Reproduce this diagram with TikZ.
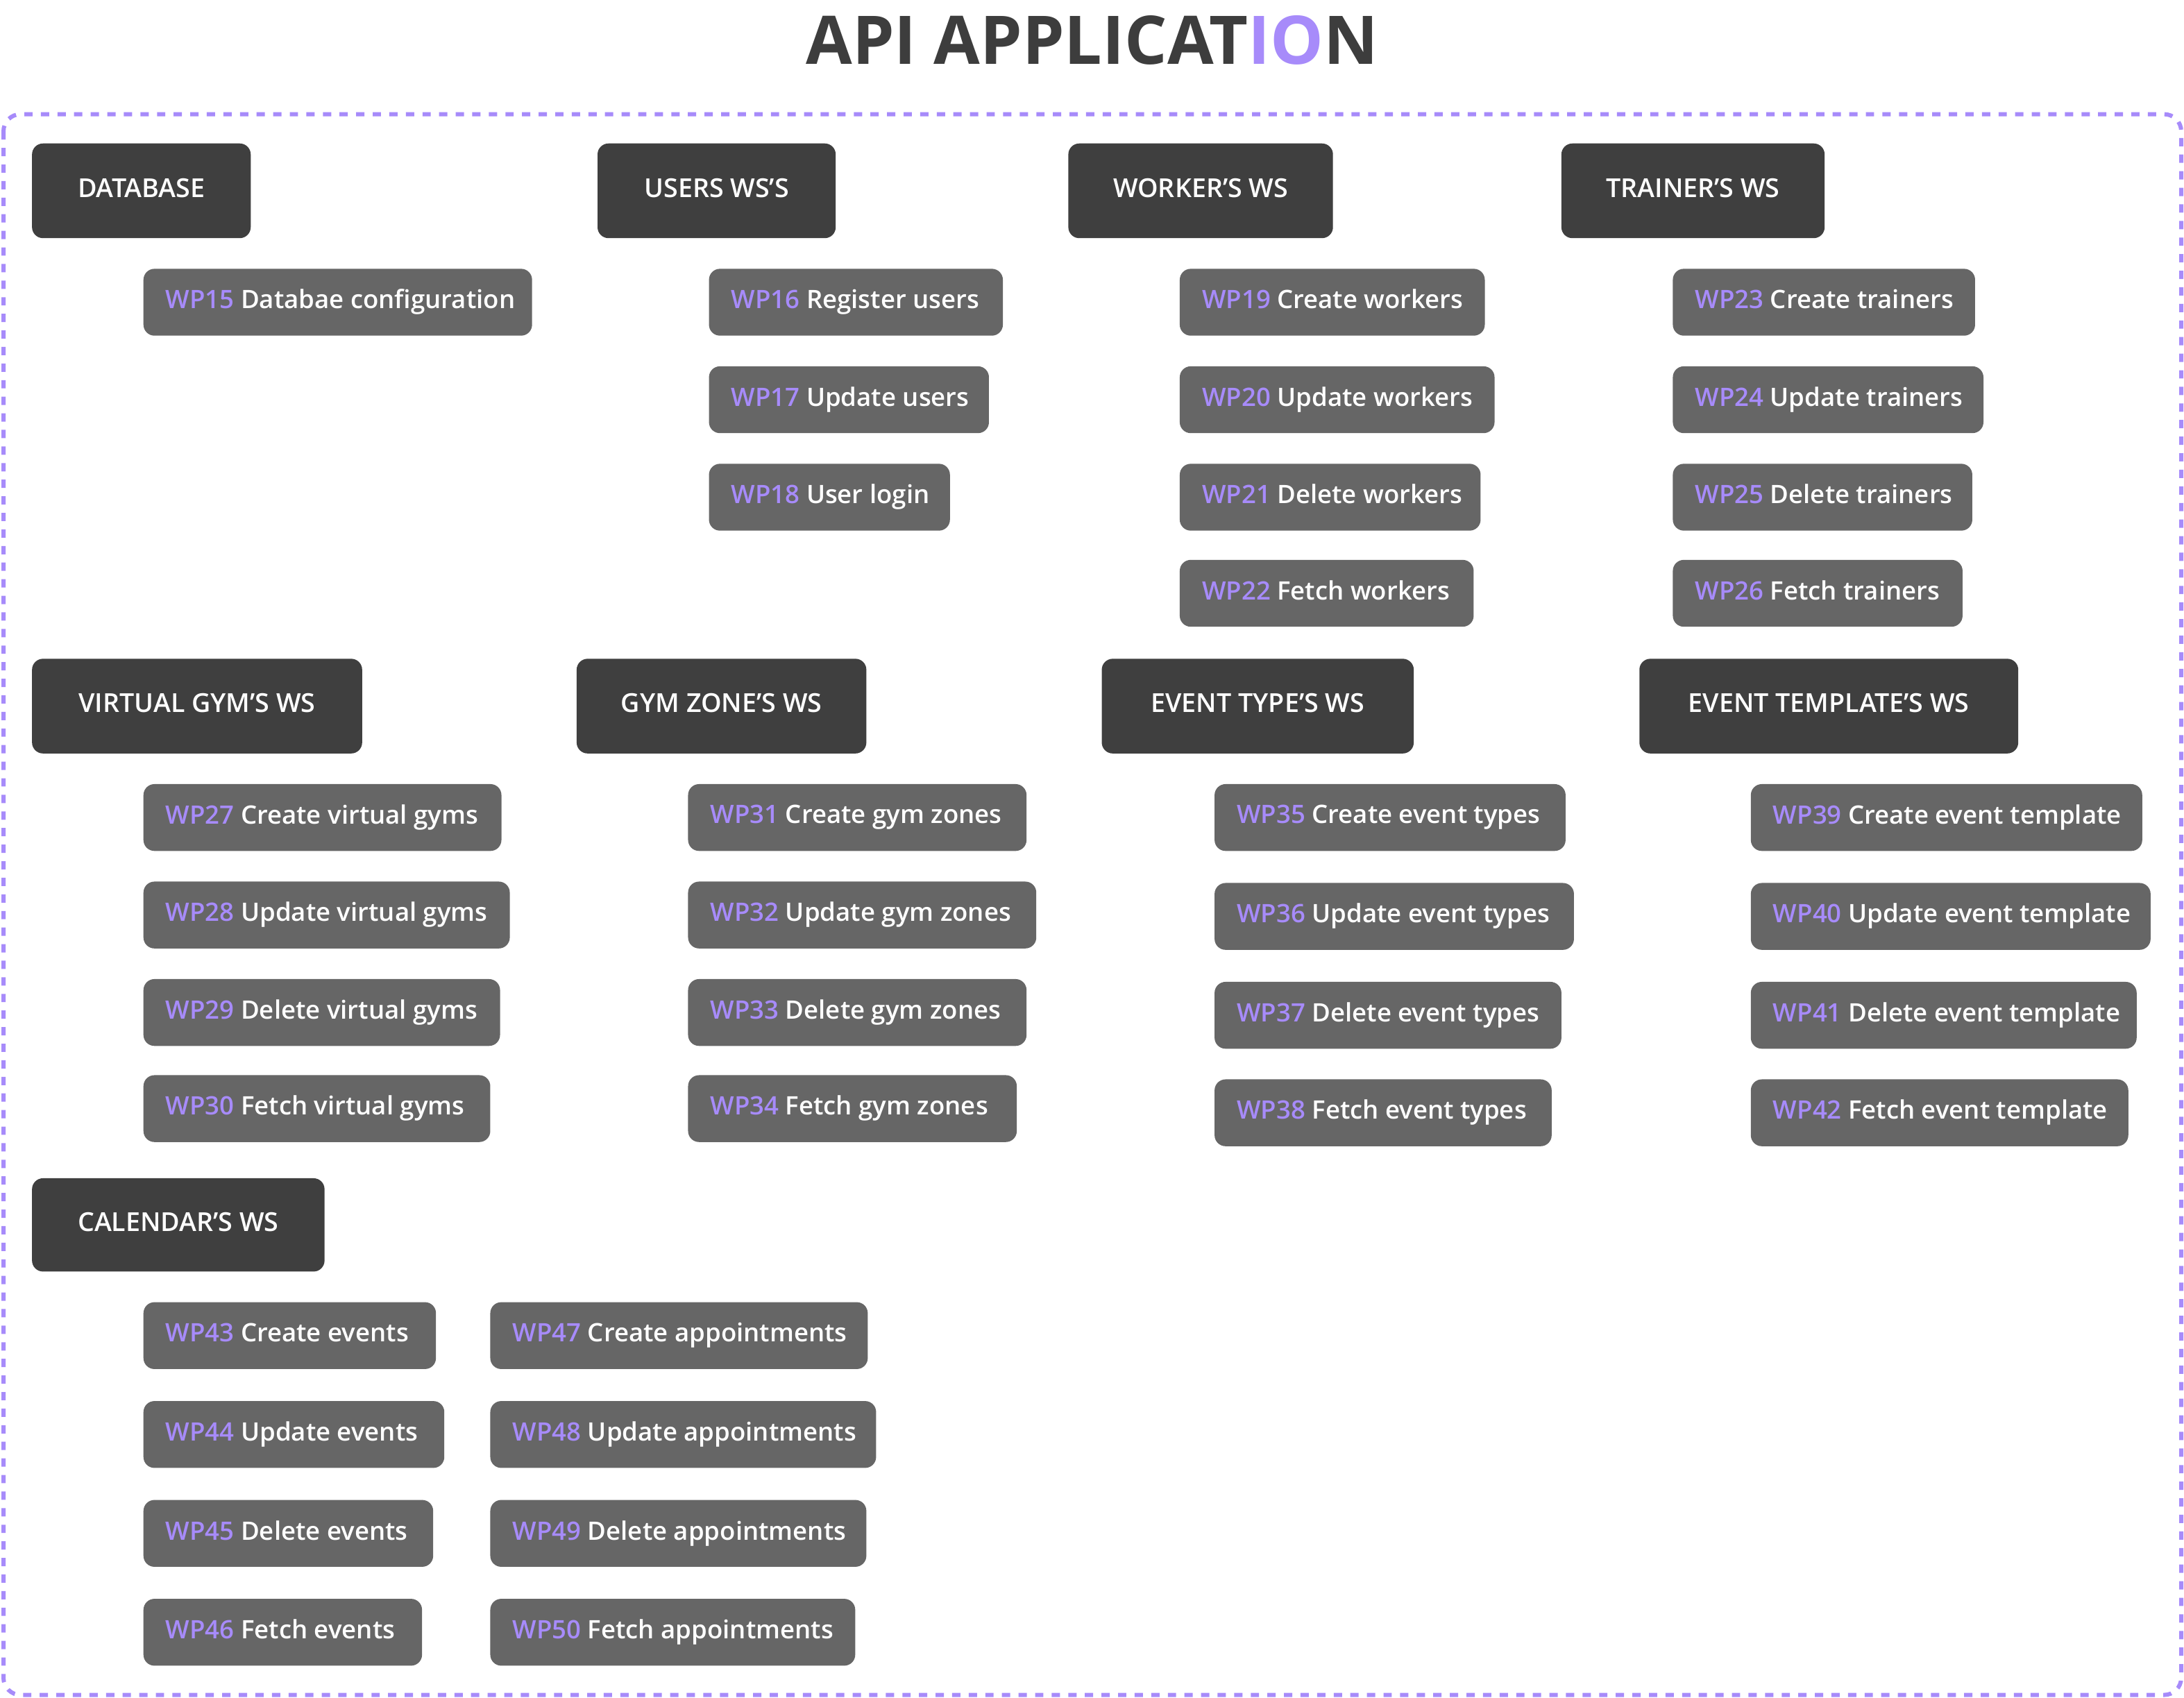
\documentclass[tikz,border=0pt]{standalone}
\usepackage{fontspec}
\setmainfont{Open Sans}
\IfFontExistsTF{Open Sans SemiBold}
  {\newfontfamily\medfont{Open Sans SemiBold}}
  {\IfFontExistsTF{Open Sans Semibold}
    {\newfontfamily\medfont{Open Sans Semibold}}
    {\newfontfamily\medfont{Open Sans}}}
\definecolor{hdrc}{HTML}{3F3F3F}
\definecolor{wpc}{HTML}{666666}
\definecolor{pur}{HTML}{A78BFA}
\definecolor{titc}{HTML}{3D3D3D}
\newcommand\capstrut{\rule[-2.6pt]{0pt}{8.1pt}}
\tikzset{
  hdrbox/.style={fill=hdrc, rounded corners=4.5pt, text=white, inner sep=0pt,
    font=\medfont\fontsize{10.7}{12}\selectfont},
  wpbox/.style={fill=wpc, rounded corners=4.5pt, text=white, inner sep=0pt,
    font=\medfont\fontsize{10.4}{12}\selectfont},
  frame/.style={draw=pur, line width=1.7pt, dash pattern=on 3.4pt off 3.4pt, rounded corners=7pt},
  titlebox/.style={inner sep=0pt, font=\fontsize{27.5}{32}\selectfont\bfseries}
}
\newcommand\hdrnode[6]{%
  \pgfmathsetmacro\bw{(#4-#2)*0.02007}%
  \pgfmathsetmacro\bh{(#5-#3)*0.02007}%
  \node[hdrbox, minimum width=\bw cm, minimum height=\bh cm] (#1) at ({(#2+#4)/2},{(#3+#5)/2}) {\capstrut #6};}
\newcommand\wpnode[7]{%
  \pgfmathsetmacro\bw{(#4-#2)*0.02007}%
  \pgfmathsetmacro\bh{(#5-#3)*0.02007}%
  \pgfmathsetmacro\tw{(#4-#2-32)*0.02007}%
  \node[wpbox, minimum width=\bw cm, minimum height=\bh cm] (#1) at ({(#2+#4)/2},{(#3+#5)/2}) {\makebox[\tw cm][l]{\capstrut\textcolor{pur}{WP#6} #7}};}
\begin{document}
\begin{tikzpicture}[x=0.02007cm,y=-0.02007cm]
\useasboundingbox (0,0) rectangle (1568,1219);
\node[titlebox] (title) at (784,29) {\textcolor{titc}{API APPLICAT}\textcolor{pur}{IO}\textcolor{titc}{N}};
\draw[frame] (2.5,82) rectangle (1566,1217);
% section 1
\hdrnode{db}{23}{103}{180}{171}{DATABASE}
\hdrnode{us}{429}{103}{600}{171}{USERS WS’S}
\hdrnode{wk}{767}{103}{957}{171}{WORKER’S WS}
\hdrnode{tr}{1121}{103}{1310}{171}{TRAINER’S WS}
\wpnode{w15}{103}{193}{382}{241}{15}{Databae configuration}
\wpnode{w16}{509}{193}{720}{241}{16}{Register users}
\wpnode{w17}{509}{263}{710}{311}{17}{Update users}
\wpnode{w18}{509}{333}{682}{381}{18}{User login}
\wpnode{w19}{847}{193}{1066}{241}{19}{Create workers}
\wpnode{w20}{847}{263}{1073}{311}{20}{Update workers}
\wpnode{w21}{847}{333}{1063}{381}{21}{Delete workers}
\wpnode{w22}{847}{402}{1058}{450}{22}{Fetch workers}
\wpnode{w23}{1201}{193}{1418}{241}{23}{Create trainers}
\wpnode{w24}{1201}{263}{1424}{311}{24}{Update trainers}
\wpnode{w25}{1201}{333}{1416}{381}{25}{Delete trainers}
\wpnode{w26}{1201}{402}{1409}{450}{26}{Fetch trainers}
% section 2
\hdrnode{vg}{23}{473}{260}{541}{VIRTUAL GYM’S WS}
\hdrnode{gz}{414}{473}{622}{541}{GYM ZONE’S WS}
\hdrnode{et}{791}{473}{1015}{541}{EVENT TYPE’S WS}
\hdrnode{ett}{1177}{473}{1449}{541}{EVENT TEMPLATE’S WS}
\wpnode{w27}{103}{563}{360}{611}{27}{Create virtual gyms}
\wpnode{w28}{103}{633}{366}{681}{28}{Update virtual gyms}
\wpnode{w29}{103}{703}{359}{751}{29}{Delete virtual gyms}
\wpnode{w30}{103}{772}{352}{820}{30}{Fetch virtual gyms}
\wpnode{w31}{494}{563}{737}{611}{31}{Create gym zones}
\wpnode{w32}{494}{633}{744}{681}{32}{Update gym zones}
\wpnode{w33}{494}{703}{737}{751}{33}{Delete gym zones}
\wpnode{w34}{494}{772}{730}{820}{34}{Fetch gym zones}
\wpnode{w35}{872}{563}{1124}{611}{35}{Create event types}
\wpnode{w36}{872}{634}{1130}{682}{36}{Update event types}
\wpnode{w37}{872}{705}{1121}{753}{37}{Delete event types}
\wpnode{w38}{872}{775}{1114}{823}{38}{Fetch event types}
\wpnode{w39}{1257}{563}{1538}{611}{39}{Create event template}
\wpnode{w40}{1257}{634}{1544}{682}{40}{Update event template}
\wpnode{w41}{1257}{705}{1534}{753}{41}{Delete event template}
\wpnode{w42}{1257}{775}{1528}{823}{42}{Fetch event template}
% section 3
\hdrnode{cal}{23}{846}{233}{913}{CALENDAR’S WS}
\wpnode{w43}{103}{935}{313}{983}{43}{Create events}
\wpnode{w44}{103}{1006}{319}{1054}{44}{Update events}
\wpnode{w45}{103}{1077}{311}{1125}{45}{Delete events}
\wpnode{w46}{103}{1148}{303}{1196}{46}{Fetch events}
\wpnode{w47}{352}{935}{623}{983}{47}{Create appointments}
\wpnode{w48}{352}{1006}{629}{1054}{48}{Update appointments}
\wpnode{w49}{352}{1077}{622}{1125}{49}{Delete appointments}
\wpnode{w50}{352}{1148}{614}{1196}{50}{Fetch appointments}
\end{tikzpicture}
\end{document}
